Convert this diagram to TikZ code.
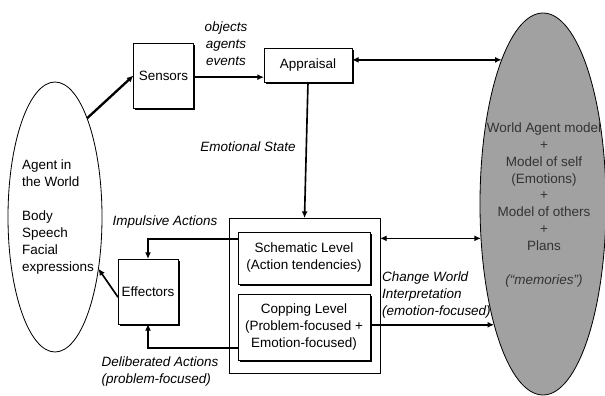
\documentclass[tikz,border=0pt]{standalone}
\usepackage{fontspec}
\setmainfont{Liberation Sans}
\usetikzlibrary{arrows.meta,shapes.geometric,shadows}

\begin{document}
\begin{tikzpicture}[x=0.03cm,y=-0.03cm,font=\fontsize{11.5}{14.5}\selectfont,>={Latex[length=2mm,width=1.8mm]},
  box/.style={draw,fill=white,inner sep=0pt,outer sep=0pt,align=center,line width=0.6pt},
  sbox/.style={box,drop shadow={shadow xshift=1.6pt,shadow yshift=-1.6pt,opacity=1,fill=black}},
  oval/.style={draw,ellipse,inner sep=0pt,outer sep=0pt,line width=0.7pt},
  lbl/.style={font=\fontsize{11.5}{14.5}\selectfont\itshape,align=center},
  conn/.style={line width=1.4pt}]
\useasboundingbox (0,0) rectangle (605,396);
% the agent and the world model
\node[oval,minimum width=2.82cm,minimum height=8.1cm] (agent) at (55,217) {};
\node[align=left] (agenttxt) at (58,217) {Agent in\\the World\\[14.5pt]Body\\Speech\\Facial\\expressions};
\node[oval,fill=black!37,minimum width=3.78cm,minimum height=11.46cm] (mem) at (543,204) {};
\node[align=center,text=black!80] (memtxt) at (544,205) {World Agent model\\+\\Model of self\\(Emotions)\\+\\Model of others\\+\\Plans\\[14.5pt]\textit{(“memories”)}};
% boxes
\node[sbox,minimum width=1.8cm,minimum height=1.95cm] (sensors) at (163.5,75.5) {Sensors};
\node[sbox,minimum width=2.64cm,minimum height=1.02cm] (appraisal) at (308,65) {Appraisal};
\node[box,minimum width=4.53cm,minimum height=4.65cm] (outer) at (304.5,295.5) {};
\node[sbox,minimum width=3.96cm,minimum height=1.56cm] (schem) at (304,258) {Schematic Level\\(Action tendencies)};
\node[sbox,minimum width=3.96cm,minimum height=1.98cm] (copping) at (304,327) {Copping Level\\(Problem-focused +\\Emotion-focused)};
\node[sbox,minimum width=1.8cm,minimum height=1.95cm] (effectors) at (148,291.5) {Effectors};
% labels
\node[lbl] (objlbl) at (226,44) {objects\\agents\\events};
\node[lbl] (emolbl) at (248,147) {Emotional State};
\node[lbl] (implbl) at (165,222) {Impulsive Actions};
\node[lbl,align=left] (dellbl) at (160,372) {Deliberated Actions\\(problem-focused)};
\node[lbl,align=left,anchor=west] (chglbl) at (378,295) {Change World\\Interpretation\\(emotion-focused)};
% arrows
\draw[conn,->,line width=2pt] (agent.72) -- (sensors.west);
\draw[conn,->] ([yshift=-0.05cm]sensors.east) -- ([yshift=-0.05cm]sensors.east -| appraisal.west);
\draw[conn,<->] (appraisal.east |- mem.106) -- (mem.106);
\draw[conn,->] (appraisal.south) -- (outer.north);
\draw[conn,<->] (outer.east |- mem.209) -- (mem.209);
\draw[conn,->] (copping.east |- mem.248) -- (mem.248);
\draw[conn,->] ([yshift=0.57cm]schem.west) -| (effectors.north);
\draw[conn,->] ([yshift=-0.63cm]copping.west) -| (effectors.south);
\draw[conn,->] ([yshift=-0.17cm]effectors.west) -- (agent.310);
\end{tikzpicture}
\end{document}
